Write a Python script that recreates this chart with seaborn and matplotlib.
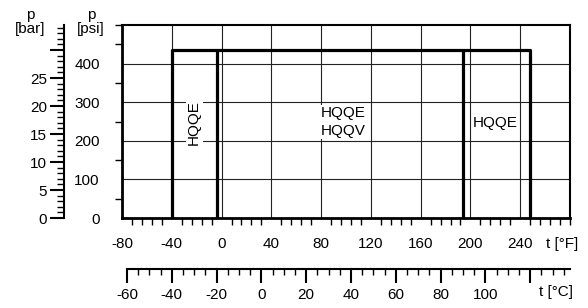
import numpy as np
import pandas as pd
import matplotlib.pyplot as plt
import seaborn as sns
from matplotlib.ticker import MultipleLocator, FuncFormatter

# operating window (temperature in °F, pressure in psi)
t_bounds_f = [-40, -4, 194, 248]
p_max_psi = 435

# region labels
region_labels = ['HQQE', 'HQQE\nHQQV', 'HQQE']
label_t_f = [-22, 98, 220]
label_p_psi = [246, 249, 246]
label_rot = [90, 0, 0]

# axis ticks
f_ticks = [-80, -40, 0, 40, 80, 120, 160, 200, 240]
c_ticks = [-60, -40, -20, 0, 20, 40, 60, 80, 100, 120]
psi_ticks = [0, 100, 200, 300, 400]
bar_ticks = [0, 5, 10, 15, 20, 25, 30]

PSI_PER_BAR = 14.5038

sns.set_style('white')
plt.rcParams['font.family'] = ['Liberation Sans', 'DejaVu Sans']
plt.rcParams['font.size'] = 11
plt.rcParams['axes.unicode_minus'] = False
plt.rcParams['text.color'] = 'black'
plt.rcParams['xtick.color'] = 'black'
plt.rcParams['ytick.color'] = 'black'

fig = plt.figure(figsize=(5.88, 3.08), dpi=100)
ax = fig.add_axes([122 / 588, 1 - 218 / 308, 448 / 588, 193 / 308])

# outline of the operating window
t_lo, t_hi = t_bounds_f[0], t_bounds_f[-1]
outline = pd.DataFrame({'t_f': [t_lo, t_lo, t_hi, t_hi],
                        'p_psi': [0, p_max_psi, p_max_psi, 0]})
sns.lineplot(data=outline, x='t_f', y='p_psi', sort=False, estimator=None,
             color='black', lw=2.3, ax=ax)
ax.vlines(t_bounds_f[1:-1], 0, p_max_psi, color='black', lw=2.3)

for txt, t, p, r in zip(region_labels, label_t_f, label_p_psi, label_rot):
    ax.text(t, p, txt, rotation=r, ha='center', va='center', fontsize=11,
            linespacing=1.3, color='black',
            bbox=dict(facecolor='white', edgecolor='none', pad=1))

ax.set_xlim(-80, 280)
ax.set_ylim(0, 500)
ax.set_xlabel('')
ax.set_ylabel('')
ax.set_xticks(f_ticks)
ax.set_yticks(psi_ticks)
ax.xaxis.set_minor_locator(MultipleLocator(8))
ax.yaxis.set_minor_locator(MultipleLocator(50))
ax.grid(True, which='major', color='#222222', lw=0.8)
ax.set_axisbelow(True)
ax.tick_params(axis='x', which='major', direction='inout', length=12,
               width=1.5, pad=8, labelsize=11, colors='black')
ax.tick_params(axis='x', which='minor', direction='out', length=5,
               width=1, bottom=True)
ax.tick_params(axis='y', which='major', direction='inout', length=20,
               width=1.5, pad=6, labelsize=11, colors='black')
ax.tick_params(axis='y', which='minor', direction='out', length=5,
               width=1, left=True)
for s in ['left', 'bottom']:
    ax.spines[s].set_linewidth(2)
for s in ['top', 'right']:
    ax.spines[s].set_linewidth(1.5)
for s in ax.spines.values():
    s.set_color('black')

# bar scale
sec_y = ax.secondary_yaxis((64 - 122) / 448,
                           functions=(lambda p: p / PSI_PER_BAR,
                                      lambda b: b * PSI_PER_BAR))
sec_y.set_yticks(bar_ticks)
sec_y.yaxis.set_major_formatter(FuncFormatter(lambda v, pos: '' if v >= 30 else f'{v:g}'))
sec_y.yaxis.set_minor_locator(MultipleLocator(1))
sec_y.tick_params(which='major', length=10, width=1.5, pad=2, labelsize=11, colors='black')
sec_y.tick_params(which='minor', length=5, width=1)
sec_y.spines['left'].set_linewidth(1.5)
sec_y.spines['left'].set_color('black')

# celsius scale
sec_x = ax.secondary_xaxis((218 - 269) / 193,
                           functions=(lambda f: (f - 32) / 1.8,
                                      lambda c: c * 1.8 + 32))
sec_x.set_xticks(c_ticks)
sec_x.xaxis.set_major_formatter(FuncFormatter(lambda v, pos: '' if v >= 120 else f'{v:g}'))
sec_x.xaxis.set_minor_locator(MultipleLocator(5))
sec_x.tick_params(which='major', length=10, width=1.5, pad=4, labelsize=11, colors='black')
sec_x.tick_params(which='minor', length=4.5, width=1)
sec_x.spines['bottom'].set_linewidth(1.5)
sec_x.spines['bottom'].set_color('black')
sec_x.spines['bottom'].set_bounds(-60, (280 - 32) / 1.8)

# axis captions
ax.text((546 - 122) / 448, (218 - 244) / 193, 't [°F]', transform=ax.transAxes,
        ha='left', va='center', fontsize=11)
ax.text((539 - 122) / 448, (218 - 292) / 193, 't [°C]', transform=ax.transAxes,
        ha='left', va='center', fontsize=11)
fig.text(30 / 588, 1 - 22 / 308, 'p\n[bar]', ha='center', va='center',
         fontsize=11, linespacing=1.0)
fig.text(91 / 588, 1 - 22 / 308, 'p\n[psi]', ha='center', va='center',
         fontsize=11, linespacing=1.0)

fig.savefig('out.png', dpi=100)
